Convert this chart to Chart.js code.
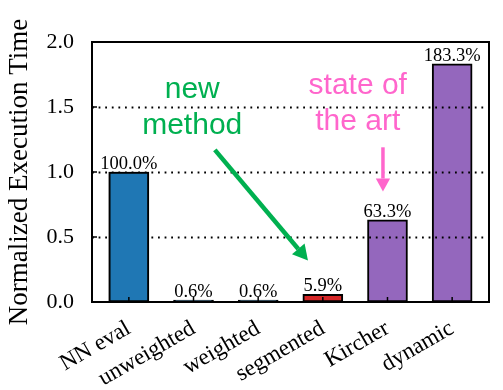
<!DOCTYPE html>
<html>
<head>
<meta charset="utf-8">
<script src="https://cdn.jsdelivr.net/npm/chart.js@4.4.1/dist/chart.umd.min.js"></script>
<style>
	html, body { margin: 0; padding: 0; background: #fff; }
	#wrap { width: 503px; height: 390px; }
</style>
</head>
<body>
<div id="wrap"><canvas id="barChart"></canvas></div>
<script>
var categories = ['NN eval', 'unweighted', 'weighted', 'segmented', 'Kircher', 'dynamic'];
var values = [1.0, 0.006, 0.006, 0.059, 0.633, 1.833];
var barColors = ['#1f77b4', '#1f77b4', '#1f77b4', '#d62728', '#9467bd', '#9467bd'];
var yTicks = [0, 0.5, 1.0, 1.5, 2.0];

var serif = '"Liberation Serif", "DejaVu Serif", serif';
var sans = '"Liberation Sans", Arial, sans-serif';

// annotation text and arrows, placed in data units
var annotations = [
	{ color: '#00b050', lines: ['new', 'method'], x: 0.98, y: [1.57, 1.29], from: [1.33, 1.17], to: [2.77, 0.32], width: 4.5, head: 15 },
	{ color: '#ff66cc', lines: ['state of', 'the art'], x: 3.54, y: [1.60, 1.32], from: [3.93, 1.19], to: [3.93, 0.85], width: 3.5, head: 13 }
];

var overlayPlugin = {
	id: 'overlay',
	afterDatasetsDraw: function(chart) {
		var ctx = chart.ctx, area = chart.chartArea;
		var xs = chart.scales.x, ys = chart.scales.y;
		var meta = chart.getDatasetMeta(0);

		// dotted grid (shows over purple bars, behind the blue one)
		ctx.save();
		ctx.strokeStyle = '#000';
		ctx.lineWidth = 1.8;
		ctx.setLineDash([1.8, 4.8]);
		[0.5, 1.0, 1.5].forEach(function(v) {
			var y = Math.round(ys.getPixelForValue(v)) + 0.5;
			ctx.beginPath();
			ctx.moveTo(area.left, y);
			ctx.lineTo(area.right, y);
			ctx.stroke();
		});
		ctx.restore();
		meta.data[0].draw(ctx);

		// inward ticks
		ctx.save();
		ctx.strokeStyle = '#000';
		ctx.lineWidth = 1.5;
		categories.forEach(function(c, i) {
			var x = xs.getPixelForValue(i);
			ctx.beginPath();
			ctx.moveTo(x, area.bottom);
			ctx.lineTo(x, area.bottom - 5);
			ctx.stroke();
		});
		yTicks.forEach(function(v) {
			var y = ys.getPixelForValue(v);
			ctx.beginPath();
			ctx.moveTo(area.left, y);
			ctx.lineTo(area.left + 5, y);
			ctx.stroke();
		});

		// frame
		ctx.lineWidth = 2;
		ctx.strokeRect(area.left, area.top, area.right - area.left, area.bottom - area.top);

		// value labels
		ctx.fillStyle = '#000';
		ctx.font = '18.5px ' + serif;
		ctx.textAlign = 'center';
		ctx.textBaseline = 'alphabetic';
		meta.data.forEach(function(bar, i) {
			ctx.fillText((values[i] * 100).toFixed(1) + '%', bar.x, bar.y - 3);
		});

		// annotations
		annotations.forEach(function(a) {
			ctx.fillStyle = a.color;
			ctx.strokeStyle = a.color;
			ctx.font = '30px ' + sans;
			ctx.textAlign = 'center';
			a.lines.forEach(function(t, k) {
				ctx.fillText(t, xs.getPixelForValue(a.x), ys.getPixelForValue(a.y[k]));
			});
			var x1 = xs.getPixelForValue(a.from[0]), y1 = ys.getPixelForValue(a.from[1]);
			var x2 = xs.getPixelForValue(a.to[0]), y2 = ys.getPixelForValue(a.to[1]);
			var ang = Math.atan2(y2 - y1, x2 - x1);
			var bx = x2 - a.head * Math.cos(ang), by = y2 - a.head * Math.sin(ang);
			ctx.lineWidth = a.width;
			ctx.beginPath();
			ctx.moveTo(x1, y1);
			ctx.lineTo(bx, by);
			ctx.stroke();
			var hw = a.head * 0.55;
			ctx.beginPath();
			ctx.moveTo(x2, y2);
			ctx.lineTo(bx + hw * Math.sin(ang), by - hw * Math.cos(ang));
			ctx.lineTo(bx - hw * Math.sin(ang), by + hw * Math.cos(ang));
			ctx.closePath();
			ctx.fill();
		});
		ctx.restore();
	}
};

var ctx = document.getElementById('barChart');
var barChart = new Chart(ctx, {
	type: 'bar',
	data: {
		datasets: [{
			data: values.map(function(v, i) { return { x: i, y: v }; }),
			backgroundColor: barColors,
			borderColor: '#000',
			borderWidth: 2,
			borderSkipped: false,
			barThickness: 40,
			minBarLength: 2
		}]
	},
	options: {
		responsive: true,
		maintainAspectRatio: false,
		animation: false,
		layout: { padding: { top: 42, right: 14, left: 0, bottom: 0 } },
		plugins: { legend: { display: false }, tooltip: { enabled: false } },
		scales: {
			x: {
				type: 'linear',
				offset: false,
				min: -0.57,
				max: 5.57,
				afterBuildTicks: function(scale) {
					scale.ticks = categories.map(function(c, i) { return { value: i }; });
				},
				afterFit: function(scale) { scale.height = 88; },
				grid: { display: false, drawTicks: false, offset: false },
				border: { display: false },
				ticks: {
					autoSkip: false,
					minRotation: 30,
					maxRotation: 30,
					padding: 13,
					color: '#000',
					font: { family: serif, size: 23 },
					callback: function(v) { return categories[v]; }
				}
			},
			y: {
				min: 0,
				max: 2,
				afterBuildTicks: function(scale) {
					scale.ticks = yTicks.map(function(v) { return { value: v }; });
				},
				afterFit: function(scale) { scale.width = 92; },
				grid: { display: false, drawTicks: false },
				border: { display: false },
				ticks: {
					padding: 18,
					color: '#000',
					font: { family: serif, size: 22 },
					callback: function(v) { return v.toFixed(1); }
				},
				title: {
					display: true,
					text: 'Normalized Execution Time',
					color: '#000',
					font: { family: serif, size: 27 },
					padding: { top: 4, bottom: 0 }
				}
			}
		}
	},
	plugins: [overlayPlugin]
});
</script>
</body>
</html>
